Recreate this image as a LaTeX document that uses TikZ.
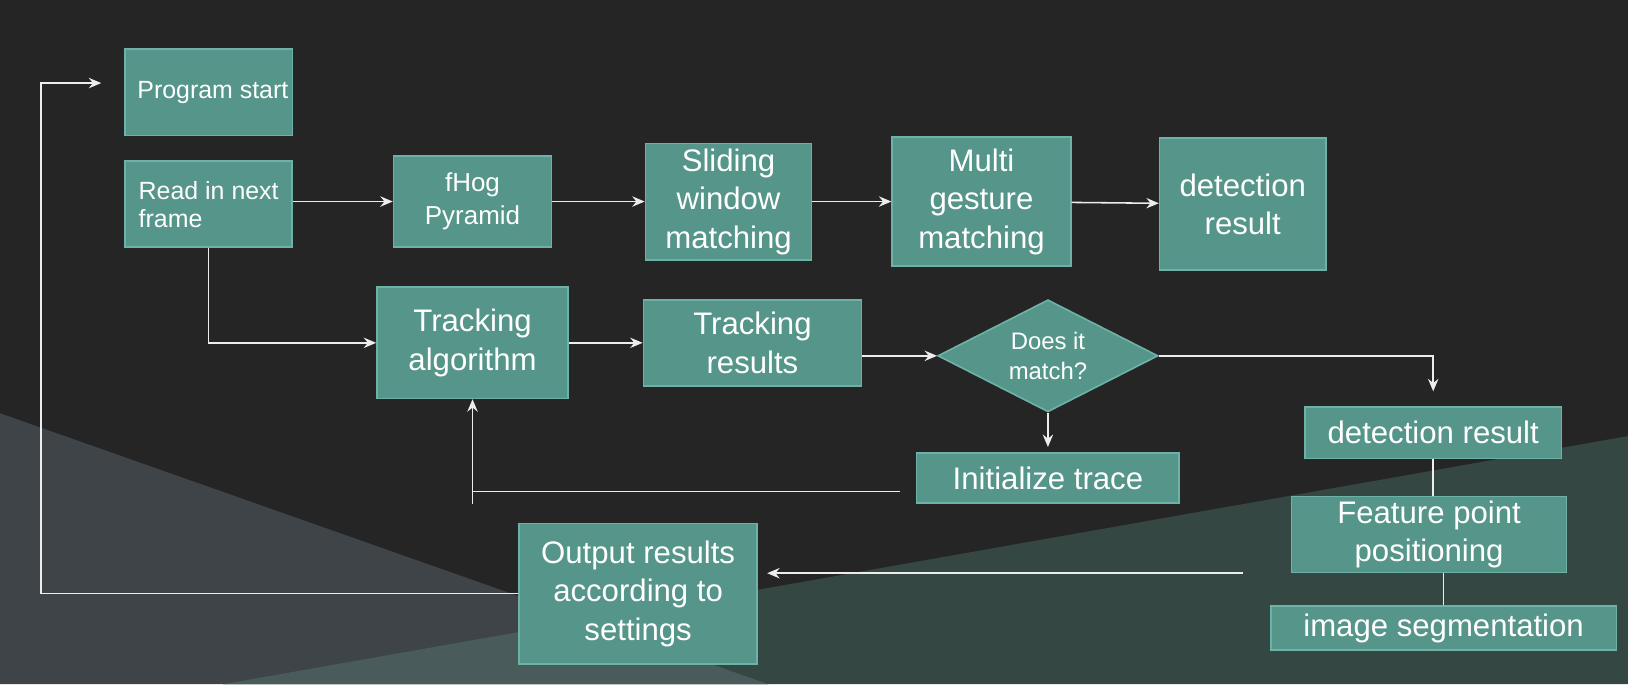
\documentclass[tikz,border=0pt]{standalone}
\usepackage{fontspec}
\setmainfont{Liberation Sans}
\usetikzlibrary{positioning,shapes.geometric,arrows.meta}

\definecolor{bgdark}{HTML}{252525}
\definecolor{bggray}{HTML}{3E4447}
\definecolor{bgteal}{HTML}{344743}
\definecolor{bgmix}{HTML}{4A5B5B}
\definecolor{boxfill}{HTML}{55958A}
\definecolor{boxline}{HTML}{6CB2A6}
\definecolor{wire}{HTML}{EDEDED}

\tikzset{
  box/.style={rectangle, draw=boxline, fill=boxfill, line width=0.8pt, text=white, inner sep=2pt},
  bigtxt/.style={font=\fontsize{15pt}{18.5pt}\selectfont, align=center},
  smalltxt/.style={font=\fontsize{12pt}{13.5pt}\selectfont},
  decision/.style={diamond, aspect=2, inner sep=0pt, draw=boxline, fill=boxfill, line width=0.8pt, text=white, font=\fontsize{11.5pt}{14.5pt}\selectfont, align=center},
  flow/.style={draw=wire, line width=0.75pt, -{Stealth[length=6pt,width=5pt,inset=2pt]}},
  wireline/.style={draw=wire, line width=0.75pt},
}

\begin{document}
\begin{tikzpicture}
      % background
      \useasboundingbox (0,0) rectangle (784pt,-329.5pt);
      \fill[bgdark] (0,0) rectangle (784pt,-329.5pt);
      \fill[bggray] (0,-199pt) -- (370pt,-329.5pt) -- (0,-329.5pt) -- cycle;
      \fill[bgteal] (107.5pt,-329.5pt) -- (784pt,-210pt) -- (784pt,-329.5pt) -- cycle;
      \begin{scope}
        \clip (0,-199pt) -- (370pt,-329.5pt) -- (0,-329.5pt) -- cycle;
        \fill[bgmix] (107.5pt,-329.5pt) -- (784pt,-210pt) -- (784pt,-329.5pt) -- cycle;
      \end{scope}

      % nodes

      %start and input
      \node[box, smalltxt, minimum width=80.5pt, minimum height=41.5pt] (start) at (100.5pt,-44.5pt) {\hspace{4pt}Program start};
      \node[box, smalltxt, align=left, minimum width=80.5pt, minimum height=41.5pt, below=11.5pt of start] (read) {Read in next\\frame};

      %detection row
      \node[box, font=\fontsize{12.5pt}{16pt}\selectfont, align=center, minimum width=76pt, minimum height=44pt, right=48pt of read, yshift=1.25pt] (fhog) {fHog\\Pyramid};
      \node[box, bigtxt, minimum width=80pt, minimum height=56pt, right=44.5pt of fhog] (sliding) {Sliding\\window\\matching};
      \node[box, bigtxt, minimum width=86pt, minimum height=62pt, right=38pt of sliding] (multi) {Multi\\gesture\\matching};
      \node[box, bigtxt, minimum width=80pt, minimum height=63.5pt, right=42pt of multi, yshift=-1.25pt] (detect) {detection\\result};

      %tracking row
      \node[box, bigtxt, minimum width=92pt, minimum height=53.5pt, below=18.5pt of fhog] (track) {Tracking\\algorithm};
      \node[box, bigtxt, minimum width=105pt, minimum height=41.5pt, right=35.5pt of track] (track_result) {Tracking\\results};
      \node[decision, minimum width=106pt, minimum height=54pt, right=36pt of track_result, yshift=-6.25pt] (match) {Does it\\match?};
      \node[box, bigtxt, minimum width=126.5pt, minimum height=24pt, below=19pt of match] (init) {Initialize trace};

      %matched branch
      \node[box, bigtxt, minimum width=123.5pt, minimum height=25pt, right=70pt of match, yshift=-37pt] (detect_match) {detection result};
      \node[box, bigtxt, minimum width=132.5pt, minimum height=35pt, below=17.5pt of detect_match, xshift=-2pt] (feature) {Feature point\\positioning};
      \node[box, bigtxt, minimum width=166.5pt, minimum height=21pt, below=15.5pt of feature, xshift=7pt] (segment) {image segmentation};

      %output
      \node[box, bigtxt, minimum width=114.5pt, minimum height=67.5pt, below=59.5pt of track, xshift=79.75pt] (output) {Output results\\according to\\settings};

      \coordinate[left=11pt of start, yshift=4.5pt] (loop_end);

      % edges
      \draw[flow] (read.east |- fhog.west) -- (fhog.west);
      \draw[flow] (fhog) -- (sliding);
      \draw[flow] (sliding) -- (multi);
      \draw[flow] (multi) -- (detect);
      \draw[flow] (read.south) |- (track.west);
      \draw[flow] (track) -- (track_result);
      \draw[flow] (track_result.east |- match.west) -- (match.west);
      \draw[flow] (match.east) -| ([yshift=7pt]detect_match.north);
      \draw[flow] (match.south) -- ([yshift=2.5pt]init.north);
      \draw[flow] ([xshift=-7.5pt,yshift=-6.5pt]init.west) -| (track.south);
      \draw[wireline] ([yshift=-6.5pt]init.west -| track.south) -- (init.south -| track.south);
      \draw[wireline] (detect_match.south) -- (detect_match.south |- feature.north);
      \draw[wireline] (segment.north) -- (segment.north |- feature.south);
      \draw[flow] ([xshift=-23pt]feature.south west) -- ([xshift=4.5pt]output.east |- feature.south west);
      \draw[flow] (output.west) -| ([xshift=-29pt]loop_end) -- (loop_end);

\end{tikzpicture}
\end{document}
